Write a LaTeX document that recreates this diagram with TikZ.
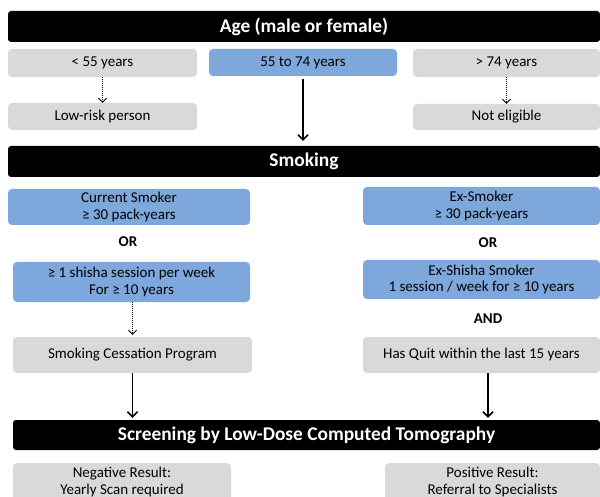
\documentclass[tikz,border=0pt]{standalone}
\usepackage{fontspec}
\setmainfont{Carlito}
\usetikzlibrary{arrows.meta}
\definecolor{boxgray}{RGB}{217,217,217}
\definecolor{riskblue}{RGB}{126,167,220}

\begin{document}
\begin{tikzpicture}[x=1pt,y=-1pt,
  bar/.style={fill=black,rounded corners=3pt,text=white,inner sep=0pt,
    font=\fontsize{19.4}{21}\selectfont\bfseries},
  graybox/.style={fill=boxgray,rounded corners=4pt,align=center,inner sep=0pt,
    font=\fontsize{15}{16.5}\selectfont},
  bluebox/.style={graybox,fill=riskblue},
  joiner/.style={font=\fontsize{15}{16.5}\selectfont\bfseries},
  mainarrow/.style={line width=1.6pt,-{Straight Barb[length=5pt,width=10pt]}},
  sidearrow/.style={line width=0.8pt,dash pattern=on 1pt off 1pt,
    -{Straight Barb[length=4pt,width=8pt]}}]
\useasboundingbox (0,0) rectangle (600,497);
\clip (0,0) rectangle (600,497);

% age
\node[bar,minimum width=592pt,minimum height=31pt] (agebar) at (304,26.5) {Age (male or female)};
\node[graybox,minimum width=189pt,minimum height=28pt] (young) at (102.5,63) {< 55 years};
\node[bluebox,minimum width=188pt,minimum height=27pt] (middle) at (303,62.5) {55 to 74 years};
\node[graybox,minimum width=187pt,minimum height=28pt] (old) at (506.5,63) {> 74 years};
\node[graybox,minimum width=189pt,minimum height=27pt] (lowrisk) at (102.5,116.5) {Low-risk person};
\node[graybox,minimum width=187pt,minimum height=26pt] (noteligible) at (506.5,117) {Not eligible};

% smoking
\node[bar,minimum width=592pt,minimum height=31pt] (smokebar) at (304,161.5) {Smoking};
\node[bluebox,minimum width=242pt,minimum height=36pt] (current) at (129,207) {Current Smoker\\≥ 30 pack-years};
\node[joiner] (orleft) at (128,242) {OR};
\node[bluebox,minimum width=237pt,minimum height=40pt] (shisha) at (131.5,282) {≥ 1 shisha session per week\\For ≥ 10 years};
\node[bluebox,minimum width=237pt,minimum height=38pt] (exsmoker) at (481.5,206) {Ex-Smoker\\≥ 30 pack-years};
\node[joiner] (orright) at (488,243) {OR};
\node[bluebox,minimum width=237pt,minimum height=39pt] (exshisha) at (481.5,279.5) {Ex-Shisha Smoker\\1 session / week for ≥ 10 years};
\node[joiner] (andright) at (488,319) {AND};
\node[graybox,minimum width=239pt,minimum height=36pt] (cessation) at (132.5,355) {Smoking Cessation Program};
\node[graybox,minimum width=237pt,minimum height=36pt] (quit) at (481.5,355) {Has Quit within the last 15 years};

% screening
\node[bar,minimum width=587pt,minimum height=30pt] (screenbar) at (306.5,435) {Screening by Low-Dose Computed Tomography};
\node[graybox,minimum width=218pt,minimum height=38pt] (negative) at (122,482) {Negative Result:\\Yearly Scan required};
\node[graybox,minimum width=215pt,minimum height=38pt] (positive) at (492.5,482) {Positive Result:\\Referral to Specialists};

% arrows
\draw[sidearrow] (young) -- (lowrisk);
\draw[sidearrow] (old) -- (noteligible);
\draw[mainarrow,shorten <=3pt,shorten >=5pt] (middle) -- (middle |- smokebar.north);
\draw[sidearrow,shorten >=2pt] (cessation.north |- shisha.south) -- (cessation.north);
\draw[mainarrow,shorten >=2pt] (cessation) -- (cessation |- screenbar.north);
\draw[mainarrow,shorten >=2pt] (andright |- quit.south) -- (andright |- screenbar.north);
\end{tikzpicture}
\end{document}
